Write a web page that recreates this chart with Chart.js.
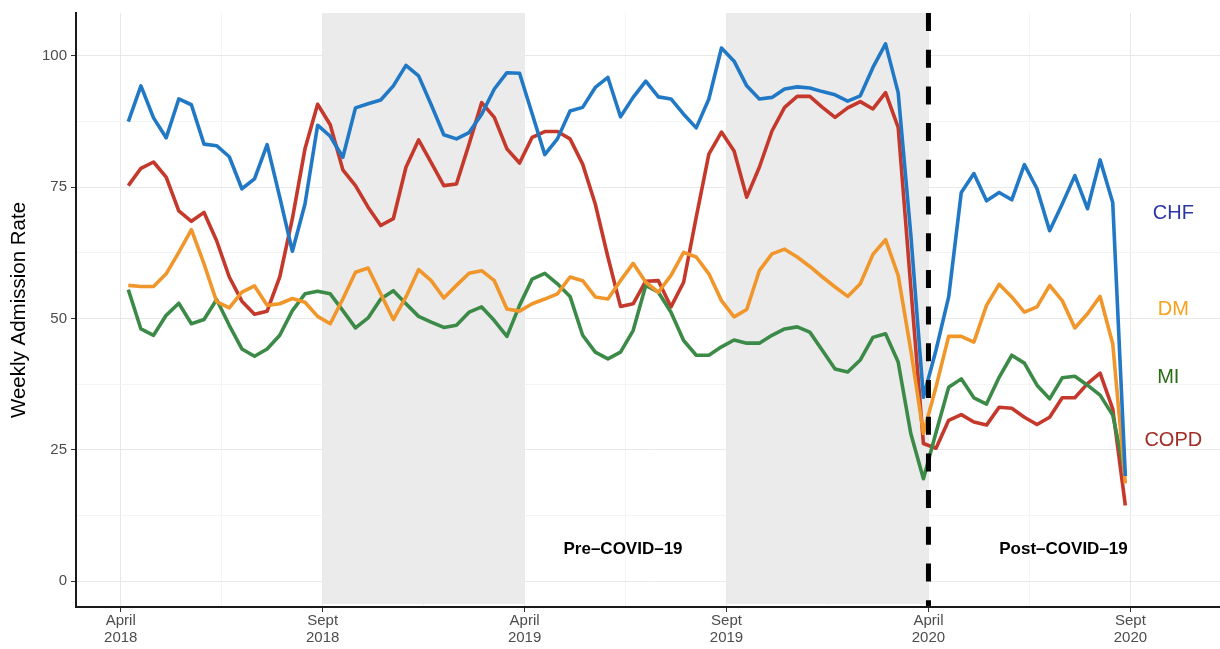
<!DOCTYPE html>
<html>
<head>
<meta charset="utf-8">
<script src="https://cdn.jsdelivr.net/npm/chart.js@4.4.1/dist/chart.umd.min.js"></script>
<style>
  html, body { margin: 0; padding: 0; background: #ffffff; }
  #wrap { width: 1220px; height: 649px; position: relative; }
</style>
</head>
<body>
<div id="wrap"><canvas id="c" width="1220" height="649"></canvas></div>
<script>
// Weekly admission rates, week index 0..79 (April 2018 -> Sept 2020)
const chf = [87.5,94.3,88.2,84.4,91.8,90.7,83.2,82.9,80.8,74.7,76.6,83.1,73.1,62.8,71.8,86.8,84.7,80.7,90.1,90.9,
             91.6,94.3,98.2,96.2,90.7,85.0,84.2,85.4,88.9,93.7,96.8,96.7,89.0,81.2,84.2,89.5,90.2,94.0,95.9,88.4,
             92.1,95.2,92.2,91.8,88.9,86.3,91.8,101.5,99.0,94.3,91.8,92.1,93.7,94.1,93.9,93.2,92.6,91.4,92.4,97.8,
             102.3,93.0,66.0,35.0,44.0,54.1,74.0,77.6,72.4,74.0,72.6,79.3,74.7,66.7,71.8,77.2,70.9,80.2,72.1,20.0];
const copd = [75.3,78.6,79.8,76.9,70.5,68.5,70.2,64.8,57.9,53.3,50.8,51.4,57.9,69.0,82.3,90.8,86.9,78.3,75.3,71.2,
              67.7,69.0,78.8,84.0,79.7,75.3,75.6,83.2,91.1,88.3,82.3,79.6,84.5,85.6,85.6,84.2,79.4,71.8,61.7,52.3,
              52.8,57.1,57.2,52.2,56.9,69.3,81.3,85.5,81.9,73.1,78.8,85.7,90.2,92.3,92.3,90.2,88.3,90.1,91.3,89.9,
              93.0,86.4,56.0,26.2,25.3,30.6,31.7,30.3,29.7,33.1,32.9,31.2,29.8,31.2,34.9,34.9,37.6,39.6,32.8,14.4];
const dm = [56.3,56.1,56.1,58.5,62.6,66.9,60.4,53.2,52.0,55.0,56.2,52.5,52.8,53.8,53.1,50.4,49.0,53.7,58.8,59.6,
            54.7,49.8,54.1,59.3,57.2,53.9,56.3,58.6,59.1,57.2,51.8,51.4,52.8,53.7,54.7,57.9,57.2,54.1,53.7,57.2,
            60.5,56.9,55.0,58.2,62.6,61.7,58.5,53.4,50.3,51.7,59.1,62.3,63.2,61.7,59.9,57.9,56.0,54.2,56.6,62.2,
            65.0,58.2,44.0,28.1,37.0,46.6,46.6,45.5,52.5,56.5,54.1,51.2,52.2,56.3,53.4,48.2,50.9,54.2,45.2,18.6];
const mi = [55.5,48.0,46.8,50.6,52.9,49.0,49.8,53.6,48.7,44.2,42.8,44.2,46.8,51.5,54.7,55.2,54.7,51.5,48.2,50.1,
            53.7,55.3,52.8,50.4,49.3,48.3,48.7,51.2,52.2,49.6,46.6,52.5,57.5,58.6,56.6,54.2,46.8,43.6,42.3,43.6,
            47.7,56.3,55.0,51.2,45.8,43.0,43.0,44.6,45.9,45.3,45.3,46.8,48.0,48.4,47.4,43.9,40.4,39.8,42.1,46.4,
            47.1,41.7,28.1,19.5,28.3,36.9,38.5,34.9,33.7,38.8,43.0,41.5,37.3,34.7,38.7,39.0,37.3,35.4,31.6,20.2];

// x tick labels and their positions on the week index axis
const xTickLabels = [['April','2018'],['Sept','2018'],['April','2019'],['Sept','2019'],['April','2020'],['Sept','2020']];
const xTickWeeks = [-0.6, 15.4, 31.4, 47.4, 63.4, 79.4];
const yTicks = [0, 25, 50, 75, 100];
const seriesNames = ['CHF','DM','MI','COPD'];

const lineColors = { CHF:'#2179c6', COPD:'#c4392b', DM:'#f0962b', MI:'#3c8a47' };
const labelColors = { CHF:'#2b35a6', DM:'#f7a21e', MI:'#2a6b14', COPD:'#a22c26' };
const labelPos = { CHF:[82.8,70.0], DM:[82.8,51.7], MI:[82.4,38.8], COPD:[82.8,26.8] };

function pts(arr){ return arr.map((v,i)=>({x:i, y:v})); }

const mkDs = (name, arr) => ({
  label: name, data: pts(arr), borderColor: lineColors[name], backgroundColor: lineColors[name],
  borderWidth: 3.6, pointRadius: 0, tension: 0, borderJoinStyle: 'round', borderCapStyle: 'butt'
});

const bandsPlugin = {
  id: 'bands',
  beforeDatasetsDraw(chart) {
    const {ctx, chartArea:{top,bottom}, scales:{x}} = chart;
    ctx.save();
    ctx.fillStyle = '#ebebeb';
    [[xTickWeeks[1], xTickWeeks[2]], [xTickWeeks[3], xTickWeeks[4]]].forEach(([a,b])=>{
      const x1 = x.getPixelForValue(a), x2 = x.getPixelForValue(b);
      ctx.fillRect(x1, top, x2-x1, bottom-top-3);
    });
    ctx.restore();
  }
};

const overlayPlugin = {
  id: 'overlay',
  afterDatasetsDraw(chart) {
    const {ctx, chartArea:{top,bottom}, scales:{x,y}} = chart;
    ctx.save();
    // dashed separator at April 2020
    const xd = x.getPixelForValue(xTickWeeks[4]);
    ctx.strokeStyle = '#000';
    ctx.lineWidth = 5;
    ctx.setLineDash([18, 18.7]);
    ctx.lineDashOffset = 0;
    ctx.beginPath(); ctx.moveTo(xd, top); ctx.lineTo(xd, bottom-1); ctx.stroke();
    ctx.setLineDash([]);
    // period labels
    ctx.fillStyle = '#000';
    ctx.font = 'bold 17px "Liberation Sans", Arial, sans-serif';
    ctx.textAlign = 'center'; ctx.textBaseline = 'middle';
    ctx.fillText('Pre\u2013COVID\u201319', x.getPixelForValue(39.2), y.getPixelForValue(6.1));
    ctx.fillText('Post\u2013COVID\u201319', x.getPixelForValue(74.1), y.getPixelForValue(6.1));
    // series labels
    ctx.font = '20px "Liberation Sans", Arial, sans-serif';
    seriesNames.forEach(n=>{
      ctx.fillStyle = labelColors[n];
      ctx.fillText(n, x.getPixelForValue(labelPos[n][0]), y.getPixelForValue(labelPos[n][1]));
    });
    ctx.restore();
  }
};

const tickFont = { family: '"Liberation Sans Narrow", "Liberation Sans", Arial, sans-serif', size: 15 };

new Chart(document.getElementById('c'), {
  type: 'line',
  data: { datasets: [mkDs('CHF', chf), mkDs('DM', dm), mkDs('MI', mi), mkDs('COPD', copd)] },
  options: {
    responsive: false, animation: false, devicePixelRatio: 1,
    layout: { padding: { top: 12, right: 0, left: 0, bottom: 0 } },
    plugins: { legend: { display: false }, tooltip: { enabled: false } },
    scales: {
      x: {
        type: 'linear', min: -4.144, max: 86.5,
        afterFit: s => { s.height = 42; },
        afterBuildTicks: s => {
          const t = [];
          xTickWeeks.forEach((w,i)=>{
            t.push({value:w, major:true});
            if (i < xTickWeeks.length-1) t.push({value:(w+xTickWeeks[i+1])/2, major:false});
          });
          s.ticks = t;
        },
        ticks: {
          color: '#4d4d4d', font: Object.assign({lineHeight: 1.1}, tickFont), padding: 1, maxRotation: 0, autoSkip: false,
          callback: function(v) { const i = xTickWeeks.indexOf(v); return i >= 0 ? xTickLabels[i] : ''; }
        },
        grid: {
          color: c => (c.tick && c.tick.major) ? '#e8e8e8' : '#f4f4f4',
          tickColor: c => (c.tick && c.tick.major) ? '#333' : 'rgba(0,0,0,0)',
          tickLength: 5, lineWidth: 1
        },
        border: { color: '#1a1a1a', width: 2 }
      },
      y: {
        type: 'linear', min: -4.94, max: 108.17,
        afterFit: s => { s.width = 76; },
        afterBuildTicks: s => {
          const t = [];
          yTicks.forEach((v,i)=>{
            t.push({value:v, major:true});
            if (i < yTicks.length-1) t.push({value:(v+yTicks[i+1])/2, major:false});
          });
          s.ticks = t;
        },
        ticks: {
          color: '#4d4d4d', font: tickFont, padding: 4,
          callback: v => yTicks.includes(v) ? String(v) : ''
        },
        grid: {
          color: c => (c.tick && c.tick.major) ? '#e8e8e8' : '#f4f4f4',
          tickColor: c => (c.tick && c.tick.major) ? '#333' : 'rgba(0,0,0,0)',
          tickLength: 5, lineWidth: 1
        },
        border: { color: '#1a1a1a', width: 2 },
        title: {
          display: true, text: 'Weekly Admission Rate', color: '#000',
          font: { family: '"Liberation Sans", Arial, sans-serif', size: 20.5 },
          padding: { top: 7, bottom: 0 }
        }
      }
    }
  },
  plugins: [bandsPlugin, overlayPlugin]
});
</script>
</body>
</html>
